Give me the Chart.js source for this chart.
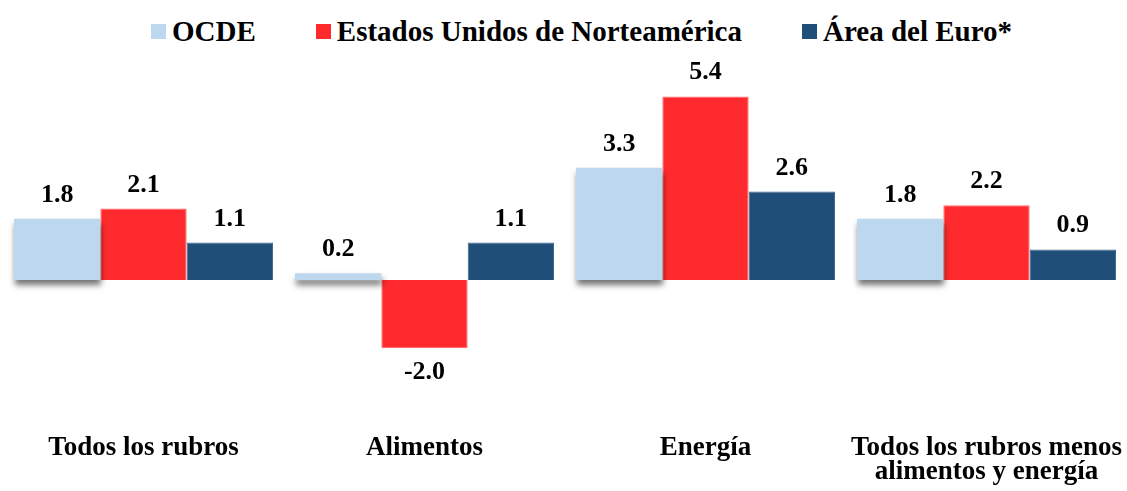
<!DOCTYPE html>
<html lang="es">
<head>
<meta charset="utf-8">
<title>Inflación por rubros</title>
<script src="https://cdn.jsdelivr.net/npm/chart.js@4.4.1/dist/chart.umd.min.js"></script>
<style>
  html, body { margin: 0; padding: 0; background: #fff; }
  .wrap { position: relative; width: 1127px; height: 491px; }
  .legend {
    position: absolute; left: 151px; top: 15px;
    display: flex; gap: 60px;
    font: bold 29px "Liberation Serif", "Times New Roman", serif;
    color: #000; line-height: 32px;
  }
  .legend span { display: flex; align-items: center; white-space: nowrap; }
  .legend i { display: inline-block; width: 15px; height: 15px; margin-right: 6px; }
  canvas { position: absolute; left: 0; top: 0; }
</style>
</head>
<body>
<div class="wrap">
  <div class="legend" id="legend"></div>
  <canvas id="chart" width="1127" height="491"></canvas>
</div>
<script>
const categories = [
  'Todos los rubros',
  'Alimentos',
  'Energía',
  ['Todos los rubros menos', 'alimentos y energía']
];
const seriesNames = ['OCDE', 'Estados Unidos de Norteamérica', 'Área del Euro*'];
const ocde = [1.8, 0.2, 3.3, 1.8];
const eeuu = [2.1, -2.0, 5.4, 2.2];
const euro = [1.1, 1.1, 2.6, 0.9];
const colors = ['#BDD7EE', '#FF2A2D', '#1F4E79'];
const borders = ['#BDD7EE', '#FF6A6A', '#3A6690'];

const serif = '"Liberation Serif", "Times New Roman", serif';

// legend lives in HTML so the square sits right against its text
const legendEl = document.getElementById('legend');
seriesNames.forEach((name, i) => {
  const item = document.createElement('span');
  const box = document.createElement('i');
  box.style.background = colors[i];
  item.appendChild(box);
  item.appendChild(document.createTextNode(name));
  legendEl.appendChild(item);
});

// soft drop shadow under the OCDE bars only
const barShadow = {
  id: 'barShadow',
  beforeDatasetDraw(chart, args) {
    if (args.index !== 0) return;
    const ctx = chart.ctx;
    ctx.save();
    ctx.shadowColor = 'rgba(0,0,0,0.55)';
    ctx.shadowBlur = 6;
    ctx.shadowOffsetX = 1;
    ctx.shadowOffsetY = 5;
  },
  afterDatasetDraw(chart, args) {
    if (args.index !== 0) return;
    chart.ctx.restore();
  }
};

// value labels above positive bars, below negative ones
const valueLabels = {
  id: 'valueLabels',
  afterDatasetsDraw(chart) {
    const ctx = chart.ctx;
    ctx.save();
    ctx.font = 'bold 26px ' + serif;
    ctx.fillStyle = '#000';
    ctx.textAlign = 'center';
    chart.data.datasets.forEach((ds, di) => {
      chart.getDatasetMeta(di).data.forEach((bar, i) => {
        const v = ds.data[i];
        const txt = v.toFixed(1);
        if (v >= 0) {
          ctx.textBaseline = 'alphabetic';
          ctx.fillText(txt, bar.x, bar.y - 17);
        } else {
          ctx.textBaseline = 'top';
          ctx.fillText(txt, bar.x, bar.y + 11);
        }
      });
    });
    ctx.restore();
  }
};

new Chart(document.getElementById('chart').getContext('2d'), {
  type: 'bar',
  data: {
    labels: categories,
    datasets: [
      // no border here: a bordered bar clips itself and would cut off the shadow
      { label: seriesNames[0], data: ocde, backgroundColor: colors[0], borderWidth: 0 },
      { label: seriesNames[1], data: eeuu, backgroundColor: colors[1], borderColor: borders[1], borderWidth: 1 },
      { label: seriesNames[2], data: euro, backgroundColor: colors[2], borderColor: borders[2], borderWidth: 1 }
    ]
  },
  options: {
    responsive: false,
    animation: false,
    layout: { padding: { top: 76, left: 3, right: 0, bottom: 6 } },
    datasets: {
      bar: { categoryPercentage: 0.922, barPercentage: 1.0 }
    },
    scales: {
      x: {
        grid: { display: false, drawTicks: false },
        border: { display: false },
        ticks: {
          color: '#000',
          padding: 20,
          font: { family: serif, size: 27, weight: 'bold', lineHeight: 0.9 }
        },
        // fixed band for the category names; no side padding for the long last label
        afterFit(scale) {
          scale.height = 69;
          scale.paddingLeft = 0;
          scale.paddingRight = 0;
        }
      },
      y: {
        display: false,
        min: -4,
        max: 6
      }
    },
    plugins: {
      legend: { display: false },
      tooltip: { enabled: false }
    }
  },
  plugins: [barShadow, valueLabels]
});
</script>
</body>
</html>
